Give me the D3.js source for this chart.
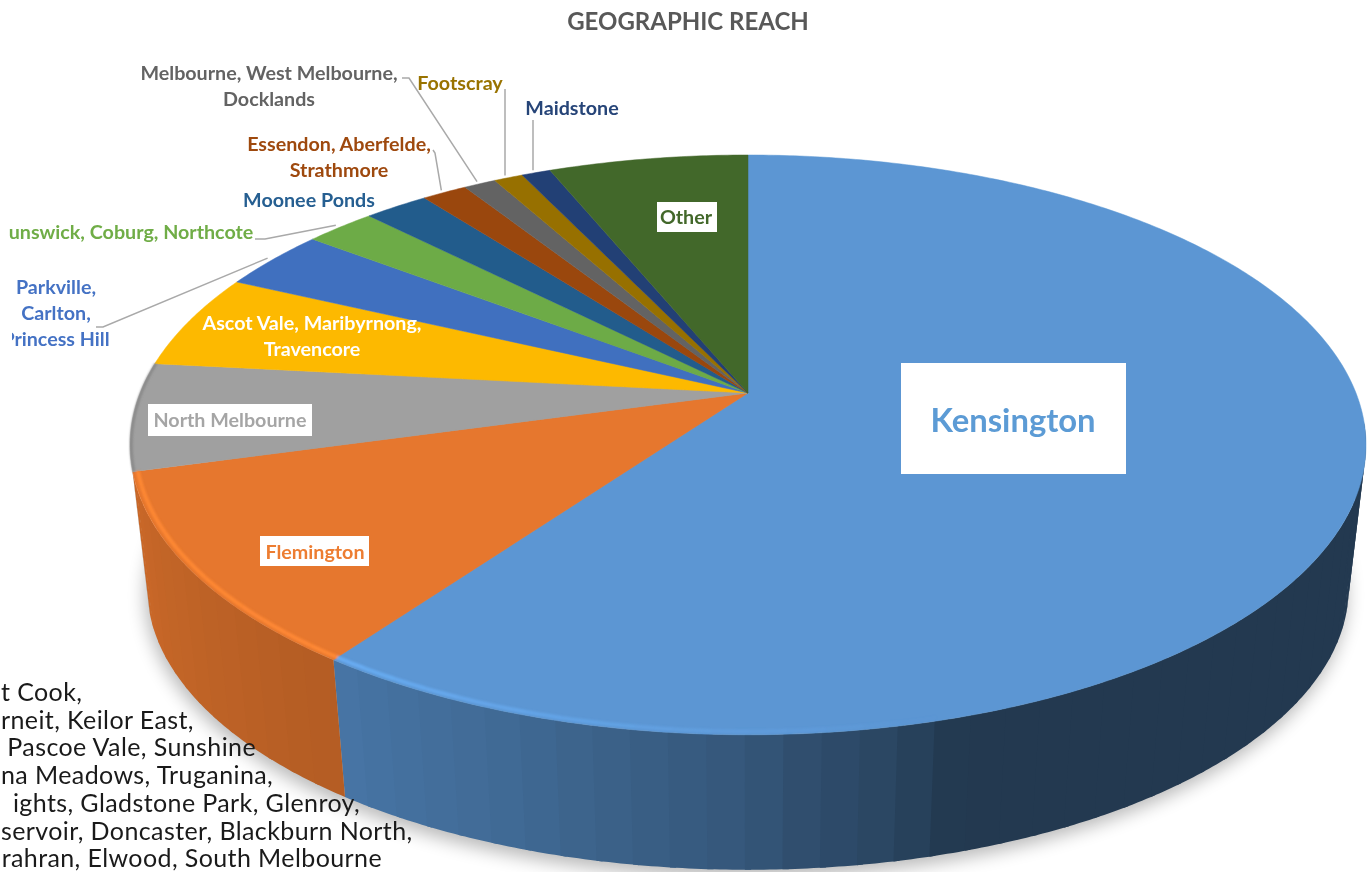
<!DOCTYPE html>
<html>
<head>
<meta charset="utf-8">
<title>Geographic reach</title>
<script src="https://cdn.jsdelivr.net/npm/d3@7"></script>
<style>
  html, body { margin: 0; background: #fff; overflow: hidden; }
  svg { display: block; }
  text { font-family: Lato, "Open Sans", sans-serif; }
</style>
</head>
<body>
<div class="chart"></div>
<script>
var svgWidth = 1369;
var svgHeight = 872;

// data (share of clients, %)
var categories = ["Kensington", "Flemington", "North Melbourne", "Ascot Vale, Maribyrnong, Travencore",
  "Parkville, Carlton, Princess Hill", "Brunswick, Coburg, Northcote", "Moonee Ponds",
  "Essendon, Aberfelde, Strathmore", "Melbourne, West Melbourne, Docklands", "Footscray", "Maidstone", "Other"];
var shares = [59.9, 10.8, 6.0, 5.3, 3.4, 2.2, 2.0, 1.4, 1.0, 0.9, 0.9, 6.2];
var sliceColors = ["#5b96d3", "#e6772e", "#a0a0a0", "#fdb900", "#4170bf", "#6dab46",
  "#245b8c", "#9a470e", "#636363", "#977000", "#223f74", "#43672b"];

// text that sits over the bottom left corner, cut by the edge of the picture
var noteLines = ["t Cook,", "rneit, Keilor East,", "Pascoe Vale, Sunshine", "na Meadows, Truganina,",
  "ights, Gladstone Park, Glenroy,", "servoir, Doncaster, Blackburn North,", "rahran, Elwood, South Melbourne"];
var noteEnds = [76, 191, 256, 271, 360, 411, 382];

// label layout, same order as categories
var labelLayout = [
  { lines: ["Kensington"], x: 1013, y: 420, size: 32.8, color: "#5b9bd5", box: [901, 363, 225, 111] },
  { lines: ["Flemington"], x: 315, y: 552, size: 19.7, color: "#ed7d31", box: [260, 536, 109, 30] },
  { lines: ["North Melbourne"], x: 230, y: 420, size: 19.7, color: "#a5a5a5", box: [148, 404, 164, 32] },
  { lines: ["Ascot Vale, Maribyrnong,", "Travencore"], x: 312, y: 323, size: 19.7, color: "#ffffff" },
  { lines: ["Parkville,", "Carlton,", "Princess Hill"], x: 56, y: 287, size: 19.7, color: "#4472c4", clip: true },
  { lines: ["unswick, Coburg, Northcote"], x: 131, y: 232, size: 19.7, color: "#70ad47" },
  { lines: ["Moonee Ponds"], x: 309, y: 200, size: 19.7, color: "#255e91" },
  { lines: ["Essendon, Aberfelde,", "Strathmore"], x: 339, y: 144, size: 19.7, color: "#9e480e" },
  { lines: ["Melbourne, West Melbourne,", "Docklands"], x: 269, y: 73, size: 19.7, color: "#636363" },
  { lines: ["Footscray"], x: 460, y: 83, size: 19.7, color: "#997300" },
  { lines: ["Maidstone"], x: 572, y: 108, size: 19.7, color: "#264478" },
  { lines: ["Other"], x: 686, y: 217, size: 19.7, color: "#43682b", box: [657, 202, 60, 30] }
];

// leader lines: start of the line at the label, the end is found on the rim
var leaders = [
  { slice: 4, from: [[96, 327], [103, 327]] },
  { slice: 5, from: [[255, 239], [265, 239]] },
  { slice: 7, from: [[433, 150], [435, 153]] },
  { slice: 8, from: [[402, 78], [409, 78]] },
  { slice: 9, from: [[505, 89]], vertical: true },
  { slice: 10, from: [[533, 120]], vertical: true }
];

// tilted disc: a circle seen in perspective, the apex sits above the ellipse centre
var apex = { x: 748, y: 393 };
var radiusX = 608;
var radiusY = 280.6;
var tilt = 0.179;
var depth = 144.6;
var shrink = 0.972;

function project(angle, ratio, low) {
  var u = Math.sin(angle) * (ratio || 1);
  var v = -Math.cos(angle) * (ratio || 1);
  var w = 1 - tilt * v;
  var s = low ? shrink : 1;
  return [apex.x + s * radiusX * u / w, apex.y + (low ? depth : 0) + s * radiusY * v / w];
}

var toRad = Math.PI / 180;
var line = d3.line();

function rimPoints(a0, a1, step, ratio, low) {
  var n = Math.max(1, Math.ceil((a1 - a0) / step));
  return d3.range(n + 1).map(i => project(a0 + (a1 - a0) * i / n, ratio, low));
}

var svg = d3.select(".chart")
  .append("svg")
  .attr("width", svgWidth)
  .attr("height", svgHeight);

var defs = svg.append("defs");
defs.append("filter").attr("id", "soft").attr("x", "-10%").attr("y", "-10%").attr("width", "120%").attr("height", "120%")
  .append("feGaussianBlur").attr("stdDeviation", 9);
defs.append("filter").attr("id", "bevel").attr("x", "-10%").attr("y", "-10%").attr("width", "120%").attr("height", "120%")
  .append("feGaussianBlur").attr("stdDeviation", 1.2);
defs.append("filter").attr("id", "fuzz").attr("x", "-5%").attr("y", "-5%").attr("width", "110%").attr("height", "110%")
  .append("feGaussianBlur").attr("stdDeviation", 0.45);
defs.append("clipPath").attr("id", "leftCut")
  .append("rect").attr("x", 12).attr("y", 0).attr("width", svgWidth).attr("height", svgHeight);

var pie = d3.pie().sort(null).value(d => d);
var slices = pie(shares);

var chartGroup = svg.append("g");

// soft shadow under the disc
chartGroup.append("path")
  .attr("d", line(rimPoints(0, 2 * Math.PI, 0.02, 1, true)) + "Z")
  .attr("transform", "translate(-2, 7)")
  .attr("fill", "#000")
  .attr("opacity", 0.28)
  .attr("filter", "url(#soft)");

// side wall, narrow strips shaded by where they face
var wallShade = d3.scaleLinear()
  .domain([96, 163, 168, 175, 180, 200, 215, 255])
  .range([0.38, 0.38, 0.46, 0.52, 0.58, 0.71, 0.78, 0.88]);
var wallStep = 3 * toRad;
var wallFrom = 96 * toRad;
var wallTo = 255 * toRad;
var wallGroup = chartGroup.append("g");

slices.forEach((s, i) => {
  var a0 = Math.max(s.startAngle, wallFrom);
  var a1 = Math.min(s.endAngle, wallTo);
  if (a1 <= a0) return;
  var n = Math.ceil((a1 - a0) / wallStep);
  // drawn from the far end back, each strip runs a little under the one drawn after it
  d3.range(n - 1, -1, -1).forEach(j => {
    var b0 = a0 + (a1 - a0) * j / n;
    var b1 = a0 + (a1 - a0) * (j + 1) / n;
    var over = j < n - 1 ? 0.5 * toRad : 0;
    var top = rimPoints(b0, b1 + over, 0.01, 1, false);
    var bottom = rimPoints(b0, b1 + over, 0.01, 1, true).reverse();
    var c = d3.rgb(sliceColors[i]);
    var f = wallShade((b0 + b1) / 2 / toRad);
    wallGroup.append("path")
      .attr("d", line(top.concat(bottom)) + "Z")
      .attr("fill", d3.rgb(c.r * f, c.g * f, c.b * f));
  });
});

// top face
chartGroup.append("g").attr("filter", "url(#fuzz)").selectAll("path")
  .data(slices)
  .enter()
  .append("path")
  .attr("d", d => line([[apex.x, apex.y]].concat(rimPoints(d.startAngle, d.endAngle, 0.01))) + "Z")
  .attr("fill", (d, i) => sliceColors[i])
  .attr("stroke", (d, i) => sliceColors[i])
  .attr("stroke-width", 0.5);

// bright bevel on the front of the rim, fading to the right
var bevelGroup = chartGroup.append("g").attr("filter", "url(#bevel)");
var bevelOpacity = d3.scaleLinear().domain([165, 180, 215, 254]).range([0, 0.3, 0.95, 0.9]);
[0, 1].forEach(i => {
  var s = slices[i];
  var a0 = Math.max(s.startAngle, 165 * toRad);
  var a1 = s.endAngle;
  if (a1 <= a0) return;
  var n = Math.ceil((a1 - a0) / wallStep);
  d3.range(n).forEach(j => {
    var b0 = a0 + (a1 - a0) * j / n;
    var b1 = a0 + (a1 - a0) * (j + 1) / n;
    bevelGroup.append("path")
      .attr("d", line(rimPoints(b0, b1, 0.01, 0.992)))
      .attr("fill", "none")
      .attr("stroke", d3.rgb(sliceColors[i]).brighter(0.4))
      .attr("stroke-width", 4)
      .attr("opacity", bevelOpacity((b0 + b1) / 2 / toRad));
  });
});

// darker edge along the grey slice
bevelGroup.append("path")
  .attr("d", line(rimPoints(slices[2].startAngle, slices[2].endAngle, 0.01, 0.998)))
  .attr("fill", "none")
  .attr("stroke", "#868686")
  .attr("stroke-width", 2.5);

// leader lines
var leaderGroup = chartGroup.append("g");
leaders.forEach(l => {
  var s = slices[l.slice];
  var end = project((s.startAngle + s.endAngle) / 2, 1.012);
  var start = l.from[l.from.length - 1];
  if (l.vertical) end = [start[0], end[1]];
  leaderGroup.append("path")
    .attr("d", line(l.from.concat([end])))
    .attr("fill", "none")
    .attr("stroke", "#a9a9a9")
    .attr("stroke-width", 1.5);
});

// labels
var labelGroup = chartGroup.append("g").attr("filter", "url(#fuzz)");
labelLayout.forEach((d, i) => {
  if (d.box) {
    labelGroup.append("rect")
      .attr("x", d.box[0]).attr("y", d.box[1])
      .attr("width", d.box[2]).attr("height", d.box[3])
      .attr("fill", "#fff");
  }
  var text = labelGroup.append("text")
    .attr("text-anchor", "middle")
    .attr("font-size", d.size)
    .attr("font-weight", 700)
    .attr("fill", d.color)
    .attr("clip-path", d.clip ? "url(#leftCut)" : null);
  d.lines.forEach((t, j) => {
    text.append("tspan")
      .attr("x", d.x)
      .attr("y", d.y + j * 26)
      .attr("dy", "0.37em")
      .text(t);
  });
});

// title
svg.append("text")
  .attr("x", 688)
  .attr("y", 22)
  .attr("dy", "0.35em")
  .attr("text-anchor", "middle")
  .attr("font-size", 24)
  .attr("font-weight", 700)
  .attr("fill", "#595959")
  .attr("filter", "url(#fuzz)")
  .text("GEOGRAPHIC REACH");

// note lines over the corner
svg.append("g").selectAll("text")
  .data(noteLines)
  .enter()
  .append("text")
  .attr("x", (d, i) => noteEnds[i])
  .attr("y", (d, i) => 701 + i * 27.7)
  .attr("text-anchor", "end")
  .attr("font-size", 25)
  .attr("letter-spacing", 0.4)
  .attr("fill", "#1a1a1a")
  .text(d => d)
  .each(function(d, i) {
    // keep the start of the line inside the picture
    var left = this.getBBox().x;
    if (left < 1) d3.select(this).attr("x", noteEnds[i] + 1 - left);
  });
</script>
</body>
</html>
